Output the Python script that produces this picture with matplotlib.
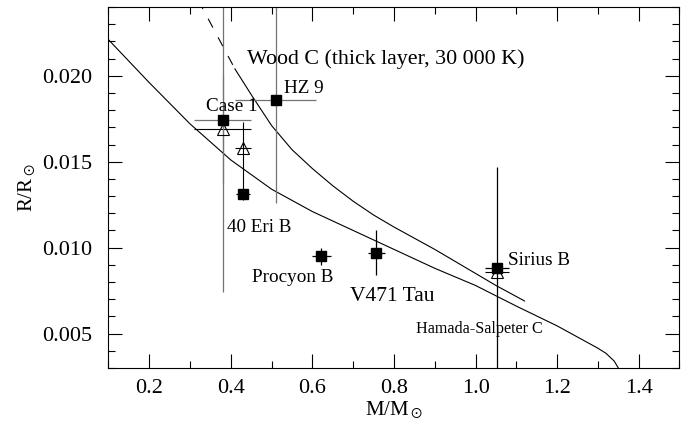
import matplotlib
matplotlib.use('Agg')
import matplotlib.pyplot as plt
import numpy as np
from matplotlib.ticker import MultipleLocator, FormatStrFormatter

plt.rcParams['font.family'] = ['Liberation Serif', 'DejaVu Serif']
plt.rcParams['mathtext.fontset'] = 'stix'

# Datos observados (masa y radio en unidades solares), cuadrados llenos
star_names = ['Case 1', 'HZ 9', '40 Eri B', 'Procyon B', 'V471 Tau', 'Sirius B']
star_mass = [0.38, 0.51, 0.43, 0.622, 0.757, 1.053]
star_mass_err = [0.07, 0.10, 0.018, 0.024, 0.02, 0.03]
star_radius = [0.0174, 0.0186, 0.0131, 0.0095, 0.0097, 0.0088]
star_radius_err = [0.0100, 0.0060, 0.0003, 0.0005, 0.0013, 0.0059]

# Triangulos abiertos
tri_mass = [0.38, 0.43, 1.053]
tri_mass_err = [0.07, 0.02, 0.03]
tri_radius = [0.0169, 0.0158, 0.0086]
tri_radius_lo = [0.0032, 0.0027, 0.0002]
tri_radius_hi = [0.0032, 0.0015, 0.0002]

# Relacion Hamada-Salpeter (carbono)
hs_mass = [0.10, 0.20, 0.30, 0.40, 0.50, 0.60, 0.70, 0.80, 0.90, 1.00,
           1.10, 1.20, 1.25, 1.30, 1.32, 1.34, 1.35]
hs_radius = [0.0221, 0.0196, 0.0172, 0.0151, 0.0134, 0.0121, 0.0110, 0.0099,
             0.0088, 0.0078, 0.0066, 0.00545, 0.0048, 0.00415, 0.00385,
             0.0034, 0.0030]

# Wood C (capa gruesa, 30 000 K)
wood_mass = [0.32, 0.41, 0.45, 0.50, 0.55, 0.60, 0.65, 0.70, 0.75, 0.80,
             0.85, 0.90, 0.95, 1.00, 1.05, 1.12]
wood_radius = [0.0244, 0.0204, 0.0189, 0.0171, 0.0157, 0.0146, 0.0136, 0.0127,
               0.0119, 0.0112, 0.01055, 0.0099, 0.0092, 0.0085, 0.0078, 0.0069]
wood_dash_limit = 0.41

# Posiciones de las etiquetas (coordenadas de datos, linea base)
label_pos = {
    'Case 1': (0.339, 0.01797),
    'HZ 9': (0.530, 0.01898),
    '40 Eri B': (0.390, 0.01093),
    'Procyon B': (0.451, 0.00802),
    'V471 Tau': (0.692, 0.0069),
    'Sirius B': (1.080, 0.00899),
}
grey_bars = {'Case 1', 'HZ 9'}

fig = plt.figure(figsize=(6.84, 4.30), dpi=100)
ax = fig.add_axes([0.1586, 0.1442, 0.8348, 0.8395])

# Curvas teoricas
ax.plot(hs_mass, hs_radius, color='black', lw=0.8)
wm = np.array(wood_mass)
wr = np.array(wood_radius)
ax.plot(wm[wm <= wood_dash_limit], wr[wm <= wood_dash_limit], color='black',
        lw=0.8, dashes=(9, 10))
ax.plot(wm[wm >= wood_dash_limit], wr[wm >= wood_dash_limit], color='black', lw=0.8)

# Triangulos
ax.errorbar(tri_mass, tri_radius, xerr=tri_mass_err,
            yerr=[tri_radius_lo, tri_radius_hi], fmt='^', ms=8,
            mfc='none', mec='black', mew=0.8, ecolor='black',
            elinewidth=0.8, capsize=0)

# Cuadrados
for i, name in enumerate(star_names):
    c = '0.45' if name in grey_bars else 'black'
    ax.errorbar(star_mass[i], star_radius[i], xerr=star_mass_err[i],
                yerr=star_radius_err[i], fmt='none', ecolor=c,
                elinewidth=0.9, capsize=0)
ax.plot(star_mass, star_radius, 's', color='black', ms=6.5, ls='none')

for name in star_names:
    x, y = label_pos[name]
    fs = 15.5 if name == 'V471 Tau' else 13.8
    ax.text(x, y, name, fontsize=fs, va='baseline', ha='left')

ax.text(0.4395, 0.02068, 'Wood C (thick layer, 30 000 K)', fontsize=15.8,
        va='baseline', ha='left')
ax.text(0.8537, 0.00502, 'Hamada-Salpeter C', fontsize=11.6,
        va='baseline', ha='left')

ax.set_xlim(0.1, 1.5)
ax.set_ylim(0.003, 0.024)
ax.xaxis.set_major_locator(MultipleLocator(0.2))
ax.xaxis.set_minor_locator(MultipleLocator(0.1))
ax.yaxis.set_major_locator(MultipleLocator(0.005))
ax.yaxis.set_minor_locator(MultipleLocator(0.001))
ax.xaxis.set_major_formatter(FormatStrFormatter('%.1f'))
ax.yaxis.set_major_formatter(FormatStrFormatter('%.3f'))
ax.tick_params(which='both', direction='in', top=True, right=True,
               width=0.8, labelsize=16)
ax.tick_params(which='major', length=10, pad=8)
ax.tick_params(which='minor', length=5)
ax.tick_params(axis='y', which='major', pad=12)
for s in ax.spines.values():
    s.set_linewidth(0.8)

ax.set_xlabel(r'M/M$_\odot$', fontsize=15, labelpad=1)
ax.set_ylabel(r'R/R$_\odot$', fontsize=15, labelpad=3)

fig.savefig('out.png', dpi=100)
